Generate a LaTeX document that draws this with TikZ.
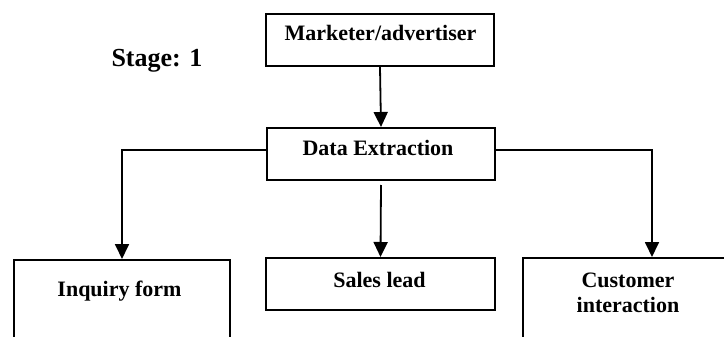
\documentclass[tikz,border=0pt]{standalone}
\usepackage{fontspec}
\setmainfont{Liberation Serif}
\usetikzlibrary{arrows.meta}
\begin{document}
\begin{tikzpicture}[x=1pt,y=-1pt,
  box/.style={draw, line width=2pt, inner sep=0pt, anchor=north west},
  lbl/.style={font=\bfseries\fontsize{22}{25}\selectfont, inner sep=0pt, anchor=base},
  arr/.style={line width=1.8pt, -{Triangle[width=14pt,length=15pt]}}]
\useasboundingbox (0,0) rectangle (724,337);
\clip (0,0) rectangle (724,337);
% boxes
\node[box, minimum width=228pt, minimum height=52pt] (top) at (265,13) {};
\node[box, minimum width=228pt, minimum height=52pt] (de) at (266,127) {};
\node[box, minimum width=229pt, minimum height=52pt] (sales) at (265,257) {};
\node[box, minimum width=216pt, minimum height=110pt] (inq) at (13,259) {};
\node[box, minimum width=258pt, minimum height=110pt] (cust) at (522,257) {};
% texts
\node[lbl, font=\bfseries\fontsize{26}{30}\selectfont] (stage) at (157,67) {Stage: 1};
\node[lbl] (ttop) at (380.5,40.5) {Marketer/advertiser};
\node[lbl] (tde) at (378,155) {Data Extraction};
\node[lbl] (tsales) at (379.5,287) {Sales lead};
\node[lbl] (tinq) at (119.5,296) {Inquiry form};
\node[lbl, anchor=north, align=center] (tcust) at (628,273) {Customer\\interaction};
% connectors
\draw[arr] (top.south) -- (de.north);
\draw[arr] ([yshift=4pt]de.west) -| (inq.north);
\draw[arr] ([yshift=4pt]de.east) -| (cust.north);
\draw[arr] ([yshift=-4pt]de.south) -- (sales.north);
\end{tikzpicture}
\end{document}
